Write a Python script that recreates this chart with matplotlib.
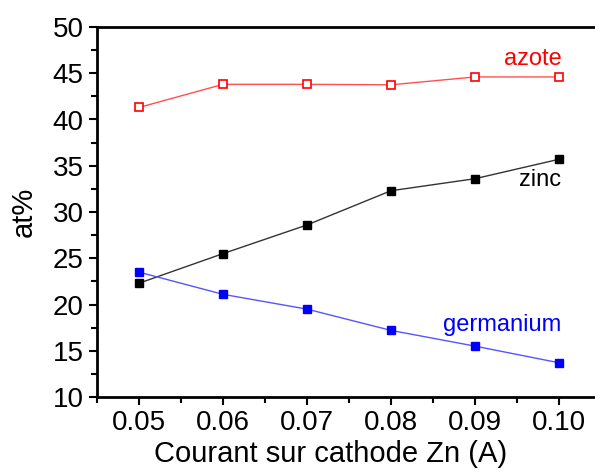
import matplotlib
matplotlib.use("Agg")
import matplotlib.pyplot as plt
from matplotlib.ticker import MultipleLocator

plt.rcParams['font.family'] = ['Liberation Sans', 'DejaVu Sans']

courant = [0.05, 0.06, 0.07, 0.08, 0.09, 0.10]
azote = [41.3, 43.8, 43.8, 43.75, 44.6, 44.6]
zinc = [22.3, 25.5, 28.6, 32.3, 33.6, 35.7]
germanium = [23.5, 21.1, 19.5, 17.2, 15.5, 13.7]

fig = plt.figure(figsize=(5.95, 4.73), dpi=100)
# axes reach a bit past the right edge, as in the cropped reference
ax = fig.add_axes([97 / 595, 76 / 473, 504 / 595, 370 / 473])

ax.plot(courant, azote, '-', color='#ff5050', lw=1,
        marker='s', ms=6, mfc='white', mec='red', mew=1.2)
ax.plot(courant, zinc, '-', color='#333333', lw=1,
        marker='s', ms=6, mfc='black', mec='black')
ax.plot(courant, germanium, '-', color='#5555ff', lw=1,
        marker='s', ms=6, mfc='blue', mec='blue')

ax.text(0.1003, 45.3, 'azote', color='red', fontsize=17, ha='right', va='bottom')
ax.text(0.1003, 34.6, 'zinc', color='black', fontsize=17, ha='right', va='top')
ax.text(0.1003, 17.8, 'germanium', color='blue', fontsize=17, ha='right', va='center')

ax.set_xlim(0.045, 0.105)
ax.set_ylim(10, 50)
ax.xaxis.set_major_locator(MultipleLocator(0.01))
ax.xaxis.set_minor_locator(MultipleLocator(0.005))
ax.yaxis.set_major_locator(MultipleLocator(5))
ax.yaxis.set_minor_locator(MultipleLocator(2.5))
ax.set_xticks(courant)
ax.set_xticklabels(['%.2f' % c for c in courant])

ax.tick_params(which='major', direction='out', length=6, width=1.5, labelsize=20)
ax.tick_params(which='minor', direction='out', length=4, width=1.5)
for side in ['left', 'bottom', 'top']:
    ax.spines[side].set_linewidth(2)
ax.spines['right'].set_visible(False)

ax.set_xlabel('Courant sur cathode Zn (A)', fontsize=21)
ax.xaxis.set_label_coords(0.464, -0.115)
ax.set_ylabel('at%', fontsize=21, labelpad=11)

fig.savefig('out.png', dpi=100)
